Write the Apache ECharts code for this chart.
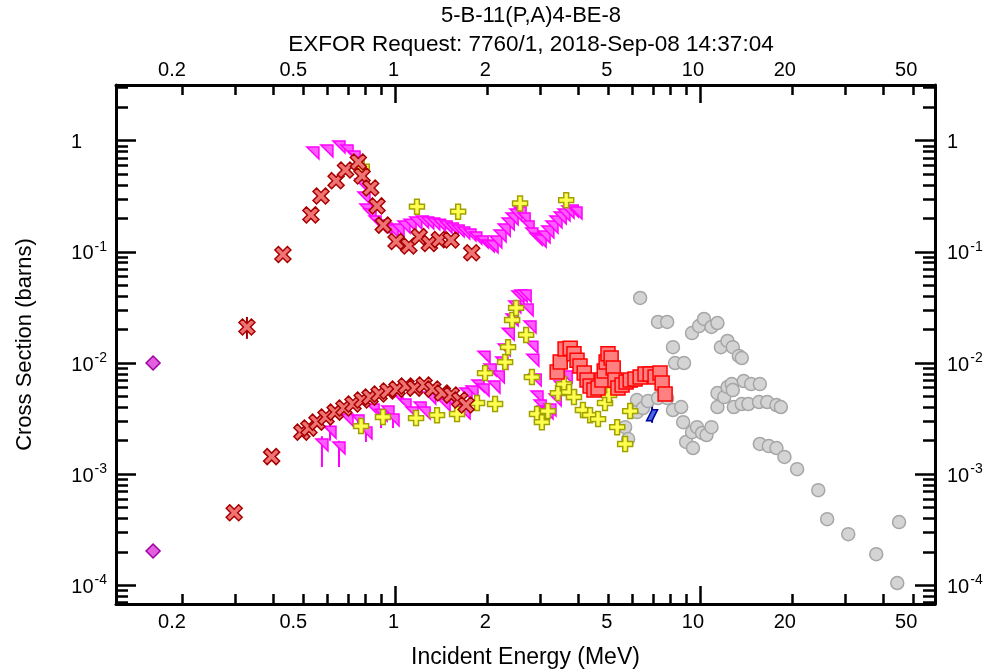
<!DOCTYPE html>
<html>
<head>
<meta charset="utf-8">
<title>5-B-11(P,A)4-BE-8</title>
<script src="https://cdn.jsdelivr.net/npm/echarts@6/dist/echarts.min.js"></script>
<style>
  html, body { margin: 0; padding: 0; background: #fff; }
  #chart { width: 990px; height: 670px; }
</style>
</head>
<body>
<div id="chart"></div>
<script>
// energy (MeV), cross section (barns)
const diamondData = [[0.161, 0.01], [0.161, 2.04e-4]];

const crossHigh = [
  [0.429, 0.0947], [0.530, 0.215], [0.572, 0.318], [0.641, 0.437], [0.688, 0.545],
  [0.758, 0.643], [0.780, 0.481], [0.832, 0.375], [0.873, 0.259], [0.915, 0.174],
  [1.008, 0.124], [1.11, 0.113], [1.20, 0.137], [1.296, 0.119], [1.397, 0.129],
  [1.526, 0.128], [1.784, 0.0983]
];
const crossLow = [
  [0.297, 4.5e-4], [0.327, 0.0211], [0.394, 1.44e-3],
  [0.495, 2.39e-3], [0.522, 2.60e-3], [0.555, 2.94e-3], [0.594, 3.27e-3], [0.636, 3.62e-3],
  [0.68, 3.94e-3], [0.728, 4.28e-3], [0.78, 4.65e-3], [0.828, 4.94e-3], [0.886, 5.26e-3],
  [0.948, 5.60e-3], [1.015, 5.83e-3], [1.087, 6.21e-3], [1.16, 5.95e-3], [1.245, 6.34e-3],
  [1.33, 5.83e-3], [1.43, 5.37e-3], [1.53, 5.15e-3], [1.63, 4.65e-3], [1.71, 4.19e-3]
];
const crossErr = [[0.327, 0.0165, 0.026]];

const triHigh = [
  [0.538, 0.775], [0.598, 0.808], [0.655, 0.878], [0.696, 0.808], [0.734, 0.713],
  [0.756, 0.630], [0.774, 0.40], [0.791, 0.305], [0.803, 0.238], [0.828, 0.215],
  [0.86, 0.186], [0.893, 0.171], [0.934, 0.161], [0.978, 0.154], [1.023, 0.157],
  [1.07, 0.167], [1.12, 0.174], [1.17, 0.182], [1.23, 0.186], [1.28, 0.182],
  [1.34, 0.178], [1.40, 0.174], [1.47, 0.167], [1.54, 0.161], [1.61, 0.154],
  [1.68, 0.148], [1.76, 0.142], [1.84, 0.133], [1.93, 0.123], [2.02, 0.113],
  [2.08, 0.111], [2.14, 0.123], [2.21, 0.139], [2.28, 0.157], [2.35, 0.178],
  [2.42, 0.198], [2.49, 0.215], [2.57, 0.224], [2.65, 0.198], [2.73, 0.167],
  [2.81, 0.145], [2.90, 0.130], [2.99, 0.125], [3.08, 0.136], [3.17, 0.151],
  [3.27, 0.167], [3.37, 0.186], [3.48, 0.202], [3.58, 0.215], [3.69, 0.228],
  [3.81, 0.233], [3.92, 0.224]
];
const triLow = [
  [0.576, 1.83e-3], [0.612, 2.39e-3], [0.655, 1.72e-3], [0.696, 3.07e-3], [0.756, 3.01e-3],
  [0.803, 2.35e-3], [0.847, 3.78e-3], [0.90, 3.40e-3], [0.948, 3.62e-3], [0.985, 3.07e-3],
  [1.015, 4.94e-3], [1.078, 4.19e-3], [1.137, 3.55e-3], [1.208, 3.94e-3], [1.245, 3.55e-3],
  [1.30, 4.84e-3], [1.373, 4.94e-3], [1.448, 4.19e-3], [1.538, 4.28e-3], [1.609, 3.78e-3],
  [1.684, 3.55e-3], [1.709, 5.26e-3], [1.788, 5.48e-3], [1.871, 6.21e-3], [1.943, 5.71e-3],
  [1.958, 0.0113], [2.05, 8.65e-3], [2.11, 6.08e-3], [2.18, 7.48e-3], [2.24, 0.01],
  [2.28, 0.0131], [2.35, 0.0182], [2.42, 0.0244], [2.47, 0.0319], [2.53, 0.0393],
  [2.59, 0.0401], [2.67, 0.0401], [2.71, 0.030], [2.77, 0.0211], [2.81, 0.0139],
  [2.83, 0.0106], [2.88, 7.03e-3], [2.92, 4.94e-3], [2.99, 4.10e-3], [3.06, 3.62e-3],
  [3.15, 3.55e-3], [3.22, 3.78e-3], [3.35, 4.65e-3], [3.48, 6.08e-3], [3.64, 7.48e-3]
];
const triErr = [
  [0.576, 1.16e-3, 2.2e-3], [0.612, 2.0e-3, 2.9e-3], [0.655, 1.16e-3, 2.0e-3],
  [0.756, 2.6e-3, 3.4e-3], [0.803, 1.95e-3, 2.8e-3], [0.90, 2.6e-3, 3.6e-3],
  [0.985, 2.6e-3, 3.6e-3]
];

const plusHigh = [[0.778, 0.583], [1.18, 0.255], [1.61, 0.23], [2.57, 0.273], [3.64, 0.292]];
const plusLow = [
  [0.774, 2.71e-3], [0.913, 3.27e-3], [1.172, 3.20e-3], [1.373, 3.40e-3], [1.597, 3.48e-3],
  [1.857, 4.37e-3], [1.973, 8.13e-3], [2.128, 4.28e-3], [2.295, 0.0102], [2.347, 0.0139],
  [2.42, 0.0244], [2.494, 0.0313], [2.69, 0.0179], [2.81, 7.48e-3], [2.92, 3.48e-3],
  [3.03, 2.94e-3], [3.17, 3.70e-3], [3.42, 5.37e-3], [3.58, 6.47e-3], [3.72, 5.48e-3],
  [3.86, 4.94e-3], [4.13, 3.78e-3], [4.36, 3.40e-3], [4.63, 3.13e-3], [4.88, 4.37e-3],
  [5.03, 5.15e-3], [5.35, 2.65e-3], [5.68, 1.87e-3], [5.90, 3.70e-3]
];

const squareData = [
  [3.40, 8.30e-3], [3.48, 0.0102], [3.61, 0.0134], [3.75, 0.0136], [3.86, 0.0121],
  [3.95, 0.0106], [4.04, 9.39e-3], [4.17, 8.13e-3], [4.26, 7.03e-3], [4.36, 6.21e-3],
  [4.49, 5.71e-3], [4.63, 5.96e-3], [4.77, 7.03e-3], [4.85, 8.47e-3], [4.92, 0.0102],
  [4.99, 0.0121], [5.11, 0.0111], [5.19, 9.02e-3], [5.26, 7.03e-3], [5.38, 5.96e-3],
  [5.55, 6.34e-3], [5.72, 6.75e-3], [5.90, 7.03e-3], [6.12, 7.18e-3], [6.36, 7.48e-3],
  [6.60, 7.96e-3], [6.86, 7.96e-3], [7.12, 7.48e-3], [7.39, 8.13e-3], [7.51, 6.61e-3],
  [7.68, 5.26e-3]
];

const circleData = [
  [4.99, 6.21e-3], [5.68, 2.65e-3], [5.81, 2.07e-3], [6.21, 4.65e-3], [6.21, 3.62e-3],
  [6.36, 0.0385], [6.50, 3.94e-3], [6.75, 4.55e-3], [7.28, 4.84e-3], [7.28, 0.0234],
  [7.80, 0.0234], [7.80, 4.84e-3], [8.15, 0.0139], [8.15, 3.78e-3], [8.28, 0.01],
  [8.67, 4.02e-3], [8.86, 0.01], [8.80, 2.94e-3], [9.00, 1.95e-3], [9.41, 2.39e-3],
  [9.41, 0.0186], [9.48, 1.72e-3], [9.77, 2.65e-3], [9.92, 0.0215], [10.15, 2.35e-3],
  [10.3, 0.0249], [10.5, 2.25e-3], [10.9, 0.0211], [10.9, 2.65e-3], [11.4, 0.0229],
  [11.4, 5.37e-3], [11.4, 4.02e-3], [11.7, 0.0139], [12.0, 4.94e-3], [12.3, 0.0158],
  [12.3, 6.08e-3], [12.7, 6.47e-3], [12.8, 0.0139], [12.8, 5.71e-3], [12.9, 4.02e-3],
  [13.4, 0.0116], [13.7, 0.0111], [13.7, 4.28e-3], [13.9, 6.89e-3], [14.4, 4.28e-3],
  [14.7, 6.47e-3], [15.6, 4.46e-3], [15.7, 6.47e-3], [15.7, 1.87e-3], [16.6, 4.46e-3],
  [16.8, 1.79e-3], [17.8, 4.19e-3], [17.8, 1.72e-3], [18.4, 4.02e-3], [18.9, 1.43e-3],
  [20.8, 1.11e-3], [24.4, 7.19e-4], [26.1, 3.94e-4], [30.6, 2.89e-4], [37.8, 1.91e-4],
  [44.9, 3.71e-4], [44.3, 1.05e-4]
];

const blueData = [[6.96, 3.4e-3]];
const blueErr = [[6.96, 2.9e-3, 4.2e-3]];

// axis ticks and labels
const xLabels = [0.2, 0.5, 1, 2, 5, 10, 20, 50];
const xMajor = [1, 10];
const xMinor = [0.2, 0.3, 0.4, 0.5, 0.6, 0.7, 0.8, 0.9, 2, 3, 4, 5, 6, 7, 8, 9, 20, 30, 40, 50];
const yLabels = [1e-4, 1e-3, 1e-2, 0.1, 1];
const yMinor = [];
[1e-5, 1e-4, 1e-3, 1e-2, 0.1, 1].forEach(d => {
  for (let k = 2; k <= 9; k++) yMinor.push(k * d);
});

const X_MIN = 0.1217, X_MAX = 58.9;
const Y_MIN = 6.8e-5, Y_MAX = 3.17;

const chart = echarts.init(document.getElementById('chart'));
const font = 'Liberation Sans, Arial, Helvetica, sans-serif';

function yLabel(v) {
  const e = Math.round(Math.log10(v));
  return e === 0 ? '{one|1}' : '{base|10}{sup|' + e + '}';
}

function xAxisDef(pos, major) {
  return {
    type: 'log', position: pos, min: X_MIN, max: X_MAX, logBase: 10,
    axisLine: { show: major, lineStyle: { color: '#000', width: 3 } },
    axisTick: {
      inside: true, length: major ? 18 : 10,
      customValues: major ? xMajor : xMinor,
      lineStyle: { color: '#000', width: 2.5 }
    },
    axisLabel: {
      show: major, customValues: xLabels, align: 'right',
      margin: pos === 'bottom' ? 8 : 5,
      padding: [0, -4, 0, 0],
      color: '#000', fontSize: 20, fontFamily: font,
      formatter: v => String(v)
    },
    splitLine: { show: false }
  };
}

function yAxisDef(pos, major) {
  const left = pos === 'left';
  return {
    type: 'log', position: pos, min: Y_MIN, max: Y_MAX, logBase: 10,
    axisLine: { show: major, lineStyle: { color: '#000', width: 3 } },
    axisTick: {
      inside: true, length: major ? 20 : 12,
      customValues: major ? yLabels : yMinor,
      lineStyle: { color: '#000', width: 2.5 }
    },
    axisLabel: {
      show: major, customValues: yLabels,
      margin: left ? 9 : 12,
      color: '#000', fontSize: 20, fontFamily: font,
      formatter: yLabel,
      rich: {
        one: { fontSize: 20, fontFamily: font, color: '#000', padding: left ? [4, 25, 0, 0] : [4, 0, 0, 0] },
        base: { fontSize: 20, fontFamily: font, color: '#000', padding: [4, 0, 0, 0] },
        sup: { fontSize: 14, fontFamily: font, color: '#000', verticalAlign: 'top', padding: [0, 0, 0, 1] }
      }
    },
    splitLine: { show: false }
  };
}

function errSeries(data, color, width) {
  return {
    type: 'custom', z: 1,
    data: data,
    encode: { x: 0, y: [1, 2] },
    renderItem: function (params, api) {
      const a = api.coord([api.value(0), api.value(1)]);
      const b = api.coord([api.value(0), api.value(2)]);
      return {
        type: 'line',
        shape: { x1: a[0], y1: a[1], x2: b[0], y2: b[1] },
        style: { stroke: color, lineWidth: width }
      };
    }
  };
}

const xPath = 'path://M2.2,0 L5,2.8 L7.8,0 L10,2.2 L7.2,5 L10,7.8 L7.8,10 L5,7.2 L2.2,10 L0,7.8 L2.8,5 L0,2.2 Z';
const plusPath = 'path://M3.4,0 L6.6,0 L6.6,3.4 L10,3.4 L10,6.6 L6.6,6.6 L6.6,10 L3.4,10 L3.4,6.6 L0,6.6 L0,3.4 L3.4,3.4 Z';
const triPath = 'path://M0,0 L10,0 L10,10 Z';
const paraPath = 'path://M5,0 L10,0 L5,10 L0,10 Z';

function scatter(name, data, symbol, size, fill, border, z) {
  return {
    name: name, type: 'scatter', data: data, symbol: symbol, symbolSize: size, z: z,
    itemStyle: { color: fill, borderColor: border, borderWidth: 1.5, opacity: 1 },
    emphasis: { disabled: true }
  };
}

chart.setOption({
  animation: false,
  backgroundColor: '#fff',
  title: {
    text: '5-B-11(P,A)4-BE-8',
    subtext: 'EXFOR Request: 7760/1, 2018-Sep-08 14:37:04',
    left: 526, top: -1, textAlign: 'center', itemGap: 5,
    textStyle: { fontSize: 22, fontWeight: 'normal', color: '#000', fontFamily: font, lineHeight: 24 },
    subtextStyle: { fontSize: 22.5, color: '#000', fontFamily: font, lineHeight: 24 }
  },
  grid: { left: 116, right: 55, top: 85, bottom: 66, containLabel: false, outerBoundsMode: 'none' },
  xAxis: [
    Object.assign(xAxisDef('bottom', true), {
      name: 'Incident Energy (MeV)', nameLocation: 'middle', nameGap: 42,
      nameTextStyle: { fontSize: 23, color: '#000', fontFamily: font }
    }),
    xAxisDef('bottom', false),
    xAxisDef('top', true),
    xAxisDef('top', false)
  ],
  yAxis: [
    Object.assign(yAxisDef('left', true), {
      name: 'Cross Section (barns)', nameLocation: 'middle', nameGap: 80,
      nameTextStyle: { fontSize: 22, color: '#000', fontFamily: font }
    }),
    yAxisDef('left', false),
    yAxisDef('right', true),
    yAxisDef('right', false)
  ],
  series: [
    scatter('circles', circleData, 'circle', 13, '#d4d4d4', '#a6a6a6', 2),
    errSeries(triErr, '#ff00ff', 2),
    scatter('triangles high', triHigh, triPath, 12, '#ff5cff', '#ff00ff', 3),
    scatter('triangles low', triLow, triPath, 12, '#ff5cff', '#ff00ff', 3),
    scatter('plus high', plusHigh, plusPath, 15, '#ffff50', '#a0a000', 4),
    scatter('plus low', plusLow, plusPath, 15, '#ffff50', '#a0a000', 4),
    errSeries(crossErr, '#a00000', 2),
    scatter('cross high', crossHigh, xPath, 16, '#ee7474', '#a80000', 5),
    scatter('cross low', crossLow, xPath, 16, '#ee7474', '#a80000', 5),
    scatter('squares', squareData, 'rect', 14, '#ff8080', '#ff0000', 6),
    errSeries(blueErr, '#0000a0', 2),
    scatter('blue', blueData, paraPath, 11, '#4a6ae0', '#0000a0', 7),
    scatter('diamonds', diamondData, 'diamond', 14, '#e060e0', '#a000a0', 7)
  ]
});
</script>
</body>
</html>
